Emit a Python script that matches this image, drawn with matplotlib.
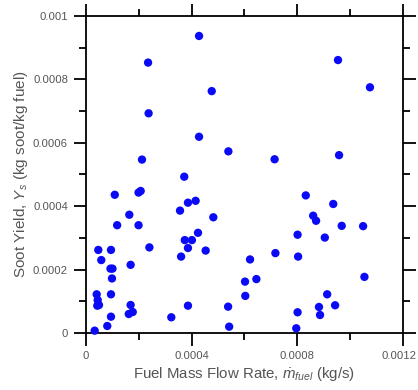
import matplotlib
matplotlib.use('Agg')
import matplotlib.pyplot as plt
import matplotlib.transforms as mtransforms
from matplotlib.ticker import MultipleLocator, FuncFormatter

# Soot yield vs fuel mass flow rate
fuel_flow = [0.000428, 0.000235, 0.000476, 0.000237, 0.000428, 0.000539, 0.000212, 0.000372,
             0.000954, 0.001075, 0.000714, 0.000958, 0.000109, 0.000199, 0.000207, 0.000164,
             0.000118, 0.000199, 0.000356, 0.000386, 0.000415, 0.000424, 0.000374, 0.000401,
             0.000386, 0.000360, 0.000240, 0.0000466, 0.0000946, 0.0000579, 0.000169, 0.0000927,
             0.0001003, 0.0000984, 0.0000405, 0.0000946, 0.0000443, 0.0000428, 0.0000492, 0.000169,
             0.000162, 0.000177, 0.0000946, 0.0000806, 0.0000329, 0.000323, 0.000386, 0.000482,
             0.000453, 0.000621, 0.000717, 0.000801, 0.000803, 0.000832, 0.000602, 0.000645,
             0.000603, 0.000538, 0.000542, 0.000801, 0.000796, 0.000936, 0.000860, 0.000871,
             0.000968, 0.001049, 0.000904, 0.001054, 0.000913, 0.000882, 0.000886, 0.000943]
soot_yield = [0.000937, 0.000853, 0.000763, 0.000693, 0.000619, 0.000573, 0.000547, 0.000493,
              0.000861, 0.000775, 0.000548, 0.000561, 0.000436, 0.000443, 0.000448, 0.000373,
              0.000340, 0.000340, 0.000386, 0.000411, 0.000417, 0.000316, 0.000293, 0.000293,
              0.000268, 0.000241, 0.000270, 0.000262, 0.000262, 0.000230, 0.000215, 0.000203,
              0.000203, 0.000172, 0.000122, 0.000122, 0.000104, 0.0000861, 0.0000883, 0.0000883,
              0.0000599, 0.0000662, 0.0000514, 0.0000221, 0.0000073, 0.0000495, 0.0000861, 0.000365,
              0.000260, 0.000232, 0.000252, 0.000310, 0.000241, 0.000434, 0.000162, 0.000170,
              0.000117, 0.0000830, 0.0000199, 0.0000653, 0.0000148, 0.000407, 0.000370, 0.000354,
              0.000338, 0.000337, 0.000301, 0.000177, 0.000122, 0.0000820, 0.0000568, 0.0000874]

plt.rcParams['font.family'] = 'Liberation Sans'
plt.rcParams['mathtext.fontset'] = 'custom'
plt.rcParams['mathtext.rm'] = 'Liberation Sans'
plt.rcParams['mathtext.it'] = 'Liberation Sans:italic'

fig = plt.figure(figsize=(4.18, 3.90), dpi=100)
ax = fig.add_axes([0.2057, 0.1462, 0.7584, 0.8128])

ax.scatter(fuel_flow, soot_yield, s=36, color='#0a0af5', edgecolors='none', zorder=3, clip_on=False)

ax.set_xlim(0, 0.0012)
ax.set_ylim(0, 0.001)

ax.xaxis.set_major_locator(MultipleLocator(0.0004))
ax.xaxis.set_minor_locator(MultipleLocator(0.0002))
ax.yaxis.set_major_locator(MultipleLocator(0.0002))
ax.yaxis.set_minor_locator(MultipleLocator(0.0001))
fmt = FuncFormatter(lambda v, _: f'{v:g}')
ax.xaxis.set_major_formatter(fmt)
ax.yaxis.set_major_formatter(fmt)

# ticks point outward on all four sides, labels only bottom/left
ax.tick_params(which='both', direction='out', top=True, right=True, width=1.3, colors='black',
               labelcolor='#555555', labelsize=8.1)
ax.tick_params(which='major', length=9, pad=4)
ax.tick_params(which='minor', length=5)
for sp in ax.spines.values():
    sp.set_linewidth(1.3)

ax.set_xlabel(r'Fuel Mass Flow Rate, $\dot{m}_{fuel}$ (kg/s)', fontsize=10.8, color='#555555', labelpad=3)
ax.set_ylabel(r'Soot Yield, $Y_s$ (kg soot/kg fuel)', fontsize=11, color='#555555', labelpad=2)

# the 0.0012 label sits right at the figure edge - nudge it in a bit so it isn't clipped
fig.canvas.draw()
shift = mtransforms.ScaledTranslation(-3 / 72, 0, fig.dpi_scale_trans)
for lab in ax.get_xticklabels():
    if lab.get_text() == '0.0012':
        lab.set_transform(lab.get_transform() + shift)

fig.savefig('out.png', dpi=100)
